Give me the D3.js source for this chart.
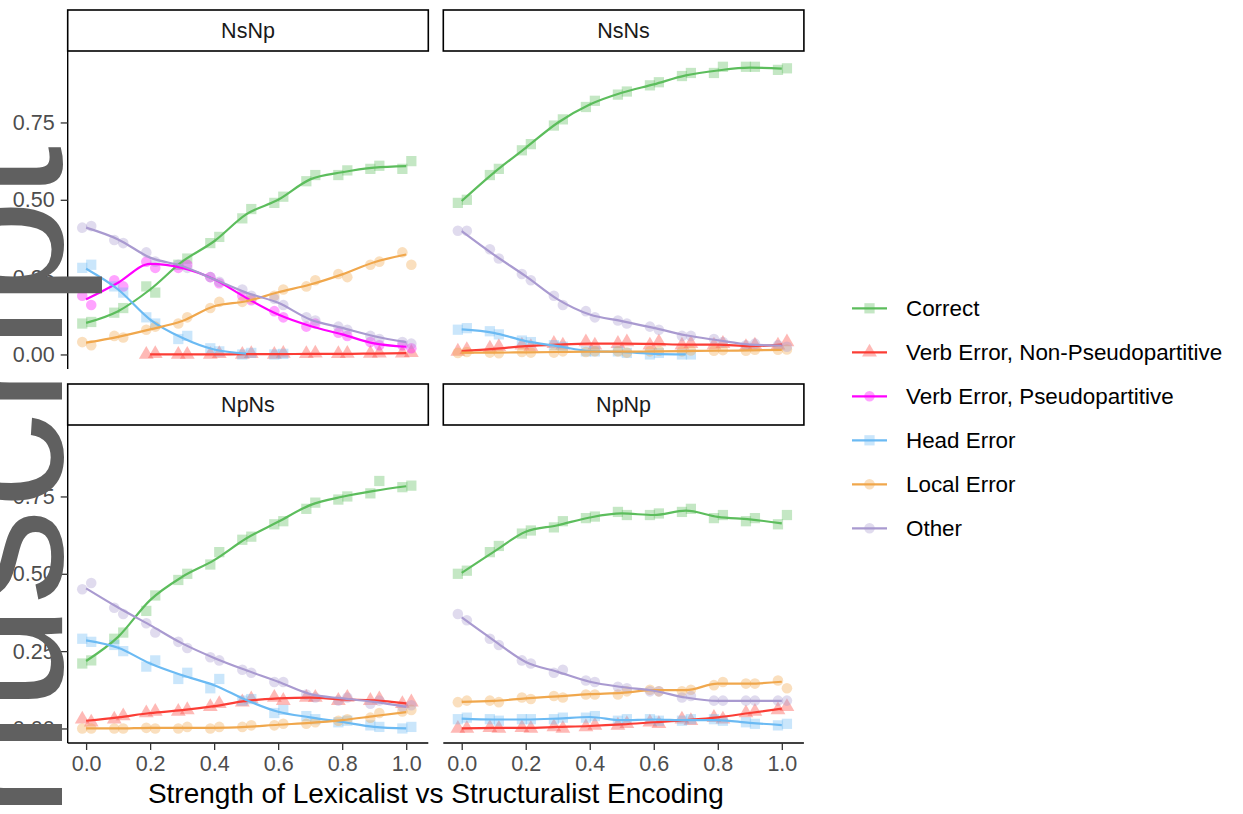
<!DOCTYPE html>
<html>
<head>
<meta charset="utf-8">
<script src="https://cdn.jsdelivr.net/npm/d3@7"></script>
<style>
  html, body { margin: 0; padding: 0; background: #fff; }
  svg { display: block; font-family: "Liberation Sans", Arial, Helvetica, sans-serif; }
</style>
</head>
<body>
<svg id="chart" width="1243" height="814"></svg>
<script>
// ---------------- DATA ----------------
const xValues = [0, 0.1, 0.2, 0.3, 0.4, 0.5, 0.6, 0.7, 0.8, 0.9, 1.0];
const xTicks = [0, 0.2, 0.4, 0.6, 0.8, 1.0];
const yTicks = [0, 0.25, 0.5, 0.75];
const panels = ["NsNp", "NsNs", "NpNs", "NpNp"];
const seriesNames = ["Correct", "Verb Error, Non-Pseudopartitive", "Verb Error, Pseudopartitive", "Head Error", "Local Error", "Other"];
const seriesColors = ["#5cbd5c", "#fb3d35", "#ff00ff", "#6bbaf3", "#f0a74c", "#a99ad0"];
const seriesShapes = ["square", "triangle", "circle", "square", "circle", "circle"];
const xAxisTitle = "Strength of Lexicalist vs Structuralist Encoding";
const watermarkText = "Author Manuscript";

// NsNp
const NsNp_Correct = [0.102, 0.14, 0.21, 0.30, 0.366, 0.453, 0.50, 0.566, 0.589, 0.604, 0.609];
const NsNp_Correct_pts = [[0.10,0.105],[0.135,0.15],[0.22,0.20],[0.29,0.31],[0.36,0.38],[0.44,0.47],[0.49,0.51],[0.56,0.58],[0.58,0.595],[0.60,0.61],[0.60,0.625]];
const NsNp_VerbNP = [null, null, 0.0, 0.0, 0.0, 0.001, 0.001, 0.002, 0.002, 0.003, 0.004];
const NsNp_VerbNP_pts = [null, null, [0.0,0.002],[0.0,0.0],[0.0,0.002],[0.0,0.002],[0.0,0.003],[0.002,0.004],[0.002,0.003],[0.003,0.004],[0.004,0.006]];
const NsNp_VerbP = [0.178, 0.232, 0.293, 0.28, 0.243, 0.183, 0.129, 0.092, 0.065, 0.036, 0.025];
const NsNp_VerbP_pts = [[0.19,0.16],[0.24,0.22],[0.30,0.28],[0.28,0.29],[0.25,0.23],[0.19,0.175],[0.14,0.12],[0.09,0.10],[0.07,0.06],[0.04,0.03],[0.03,0.02]];
const NsNp_Head = [0.277, 0.21, 0.113, 0.054, 0.016, 0.003, null, null, null, null, null];
const NsNp_Head_pts = [[0.28,0.29],[0.22,0.20],[0.12,0.10],[0.05,0.06],[0.02,0.01],[0.0,0.005],[0.0,0.002],null,null,null,null];
const NsNp_Local = [0.038, 0.057, 0.081, 0.108, 0.156, 0.172, 0.201, 0.226, 0.259, 0.298, 0.323];
const NsNp_Local_pts = [[0.04,0.03],[0.06,0.055],[0.08,0.09],[0.10,0.12],[0.15,0.17],[0.17,0.18],[0.19,0.21],[0.22,0.24],[0.26,0.25],[0.29,0.30],[0.33,0.29]];
const NsNp_Other = [0.41, 0.372, 0.313, 0.286, 0.243, 0.20, 0.167, 0.113, 0.086, 0.059, 0.04];
const NsNp_Other_pts = [[0.41,0.415],[0.37,0.36],[0.33,0.30],[0.29,0.28],[0.25,0.235],[0.21,0.19],[0.18,0.16],[0.12,0.11],[0.09,0.08],[0.06,0.05],[0.04,0.035]];

// NsNs
const NsNs_Correct = [0.496, 0.587, 0.668, 0.749, 0.808, 0.846, 0.873, 0.902, 0.918, 0.927, 0.924];
const NsNs_Correct_pts = [[0.49,0.50],[0.58,0.60],[0.66,0.68],[0.74,0.76],[0.80,0.82],[0.84,0.85],[0.87,0.88],[0.90,0.91],[0.91,0.93],[0.93,0.93],[0.92,0.925]];
const NsNs_VerbNP = [0.011, 0.018, 0.027, 0.032, 0.035, 0.035, 0.034, 0.032, 0.032, 0.027, 0.032];
const NsNs_VerbNP_pts = [[0.01,0.015],[0.02,0.025],[0.03,0.025],[0.035,0.03],[0.04,0.03],[0.035,0.04],[0.03,0.04],[0.03,0.035],[0.03,0.035],[0.025,0.03],[0.03,0.04]];
const NsNs_Head = [0.081, 0.07, 0.043, 0.027, 0.011, 0.008, 0.002, 0.0, null, null, null];
const NsNs_Head_pts = [[0.08,0.085],[0.075,0.065],[0.045,0.04],[0.03,0.025],[0.01,0.01],[0.01,0.005],[0.0,0.005],[0.0,0.0],null,null,null];
const NsNs_Local = [0.006, 0.006, 0.007, 0.008, 0.009, 0.009, 0.01, 0.011, 0.012, 0.013, 0.015];
const NsNs_Local_pts = [[0.005,0.008],[0.006,0.004],[0.008,0.006],[0.006,0.01],[0.008,0.01],[0.01,0.006],[0.01,0.012],[0.01,0.013],[0.012,0.014],[0.012,0.015],[0.015,0.016]];
const NsNs_Other = [0.399, 0.323, 0.253, 0.178, 0.129, 0.108, 0.086, 0.062, 0.046, 0.032, 0.029];
const NsNs_Other_pts = [[0.40,0.40],[0.34,0.31],[0.26,0.24],[0.19,0.16],[0.14,0.12],[0.11,0.10],[0.09,0.08],[0.06,0.06],[0.05,0.04],[0.03,0.035],[0.03,0.025]];

// NpNs
const NpNs_Correct = [0.218, 0.296, 0.415, 0.49, 0.544, 0.614, 0.668, 0.722, 0.749, 0.768, 0.783];
const NpNs_Correct_pts = [[0.21,0.22],[0.29,0.31],[0.38,0.43],[0.48,0.50],[0.53,0.57],[0.61,0.62],[0.66,0.67],[0.71,0.73],[0.74,0.75],[0.76,0.80],[0.78,0.785]];
const NpNs_VerbNP = [0.025, 0.036, 0.05, 0.059, 0.072, 0.089, 0.097, 0.10, 0.094, 0.091, 0.081];
const NpNs_VerbNP_pts = [[0.03,0.02],[0.03,0.04],[0.05,0.055],[0.055,0.06],[0.07,0.08],[0.085,0.095],[0.10,0.09],[0.10,0.10],[0.09,0.10],[0.09,0.095],[0.08,0.085]];
const NpNs_Head = [0.285, 0.261, 0.21, 0.172, 0.14, 0.092, 0.054, 0.036, 0.021, 0.005, 0.0];
const NpNs_Head_pts = [[0.29,0.28],[0.27,0.25],[0.20,0.22],[0.16,0.18],[0.13,0.16],[0.09,0.095],[0.05,0.06],[0.04,0.03],[0.02,0.025],[0.01,0.005],[0.0,0.005]];
const NpNs_Local = [0.0, 0.0, 0.002, 0.002, 0.002, 0.005, 0.012, 0.018, 0.027, 0.04, 0.053];
const NpNs_Local_pts = [[0.0,0.0],[0.0,0.0],[0.002,0.0],[0.0,0.005],[0.0,0.005],[0.005,0.01],[0.01,0.015],[0.015,0.02],[0.025,0.03],[0.035,0.05],[0.055,0.06]];
const NpNs_Other = [0.453, 0.391, 0.334, 0.275, 0.228, 0.188, 0.151, 0.111, 0.097, 0.086, 0.07];
const NpNs_Other_pts = [[0.45,0.47],[0.39,0.37],[0.34,0.31],[0.28,0.26],[0.23,0.22],[0.19,0.18],[0.15,0.15],[0.11,0.10],[0.09,0.10],[0.08,0.09],[0.07,0.075]];

// NpNp
const NpNp_Correct = [0.503, 0.571, 0.636, 0.657, 0.682, 0.695, 0.69, 0.704, 0.684, 0.676, 0.663];
const NpNp_Correct_pts = [[0.50,0.51],[0.57,0.59],[0.63,0.64],[0.65,0.67],[0.68,0.685],[0.70,0.69],[0.69,0.695],[0.70,0.71],[0.68,0.69],[0.67,0.68],[0.66,0.69]];
const NpNp_VerbNP = [0.0, 0.002, 0.002, 0.005, 0.008, 0.013, 0.02, 0.027, 0.036, 0.05, 0.064];
const NpNp_VerbNP_pts = [[0.0,0.0],[0.002,0.0],[0.002,0.0],[0.005,0.0],[0.005,0.01],[0.01,0.015],[0.02,0.015],[0.03,0.025],[0.035,0.03],[0.05,0.055],[0.06,0.07]];
const NpNp_Head = [0.032, 0.029, 0.029, 0.032, 0.037, 0.027, 0.029, 0.027, 0.027, 0.018, 0.011];
const NpNp_Head_pts = [[0.03,0.035],[0.03,0.025],[0.03,0.03],[0.03,0.035],[0.035,0.04],[0.025,0.03],[0.03,0.025],[0.025,0.03],[0.03,0.025],[0.02,0.015],[0.01,0.015]];
const NpNp_Local = [0.086, 0.089, 0.097, 0.104, 0.111, 0.115, 0.124, 0.124, 0.145, 0.145, 0.151];
const NpNp_Local_pts = [[0.085,0.09],[0.09,0.085],[0.10,0.095],[0.105,0.10],[0.11,0.11],[0.11,0.12],[0.125,0.12],[0.12,0.125],[0.14,0.15],[0.145,0.145],[0.155,0.13]];
const NpNp_Other = [0.359, 0.285, 0.215, 0.183, 0.151, 0.134, 0.122, 0.10, 0.089, 0.089, 0.089];
const NpNp_Other_pts = [[0.37,0.35],[0.29,0.27],[0.22,0.21],[0.18,0.19],[0.155,0.15],[0.135,0.13],[0.12,0.12],[0.10,0.105],[0.09,0.09],[0.09,0.09],[0.09,0.09]];

// series per panel: [seriesIndex, line, points]
const panelSeries = {
  NsNp: [[0, NsNp_Correct, NsNp_Correct_pts],[1, NsNp_VerbNP, NsNp_VerbNP_pts],[2, NsNp_VerbP, NsNp_VerbP_pts],[3, NsNp_Head, NsNp_Head_pts],[4, NsNp_Local, NsNp_Local_pts],[5, NsNp_Other, NsNp_Other_pts]],
  NsNs: [[0, NsNs_Correct, NsNs_Correct_pts],[1, NsNs_VerbNP, NsNs_VerbNP_pts],[3, NsNs_Head, NsNs_Head_pts],[4, NsNs_Local, NsNs_Local_pts],[5, NsNs_Other, NsNs_Other_pts]],
  NpNs: [[0, NpNs_Correct, NpNs_Correct_pts],[1, NpNs_VerbNP, NpNs_VerbNP_pts],[3, NpNs_Head, NpNs_Head_pts],[4, NpNs_Local, NpNs_Local_pts],[5, NpNs_Other, NpNs_Other_pts]],
  NpNp: [[0, NpNp_Correct, NpNp_Correct_pts],[1, NpNp_VerbNP, NpNp_VerbNP_pts],[3, NpNp_Head, NpNp_Head_pts],[4, NpNp_Local, NpNp_Local_pts],[5, NpNp_Other, NpNp_Other_pts]]
};

// ---------------- LAYOUT ----------------
const svg = d3.select("#chart");
const panelW = 360.6, panelH = 318, stripH = 41;
const colX = [67.7, 443.3];
const rowStripY = [10, 384];
const jitterX = [-0.012, 0.016];

const xScale = d3.scaleLinear().domain([-0.0575, 1.069]).range([0, panelW]);
const yScale = d3.scaleLinear().domain([-0.047, 0.981]).range([panelH, 0]);

const symbolType = { square: d3.symbolSquare, triangle: d3.symbolTriangle, circle: d3.symbolCircle };
const symbolSize = { square: 105, triangle: 95, circle: 88 };
const ptOpacity = 0.36;

panels.forEach((name, pi) => {
  const col = pi % 2, row = Math.floor(pi / 2);
  const px = colX[col], sy = rowStripY[row], py = sy + stripH;
  const g = svg.append("g").attr("transform", `translate(${px},${py})`);

  // strip
  svg.append("rect").attr("x", px).attr("y", sy).attr("width", panelW).attr("height", stripH)
    .attr("fill", "#fff").attr("stroke", "#000").attr("stroke-width", 1.6);
  svg.append("text").attr("x", px + panelW / 2).attr("y", sy + stripH / 2).attr("dy", "0.36em")
    .attr("text-anchor", "middle").attr("font-size", 21.5).attr("fill", "#1a1a1a").text(name);

  const list = panelSeries[name];
  // points
  list.forEach(([si, line, pts]) => {
    const shape = seriesShapes[si];
    const sym = d3.symbol().type(symbolType[shape]).size(symbolSize[shape]);
    pts.forEach((pair, i) => {
      if (!pair) return;
      pair.forEach((v, k) => {
        g.append("path").attr("d", sym)
          .attr("transform", `translate(${xScale(xValues[i] + jitterX[k])},${yScale(v)})`)
          .attr("fill", seriesColors[si]).attr("fill-opacity", ptOpacity);
      });
    });
  });
  // lines
  list.forEach(([si, line]) => {
    const data = line.map((v, i) => [xValues[i], v]).filter(d => d[1] !== null);
    g.append("path").datum(data)
      .attr("d", d3.line().x(d => xScale(d[0])).y(d => yScale(d[1])).curve(d3.curveMonotoneX))
      .attr("fill", "none").attr("stroke", seriesColors[si]).attr("stroke-width", 2.2);
  });

  // y axis on left column
  if (col === 0) {
    const ya = g.append("g").call(d3.axisLeft(yScale).tickValues(yTicks).tickFormat(d3.format(".2f")).tickSize(7).tickPadding(6));
    ya.select(".domain").attr("stroke", "#000").attr("stroke-width", 1.4).attr("d", `M0,0V${panelH}`);
    ya.selectAll(".tick line").attr("stroke", "#333").attr("stroke-width", 1.3);
    ya.selectAll(".tick text").attr("font-size", 21.5).attr("fill", "#4d4d4d").attr("font-family", "Liberation Sans, Arial, sans-serif");
  }
  // x axis on bottom row
  if (row === 1) {
    const xa = g.append("g").attr("transform", `translate(0,${panelH})`)
      .call(d3.axisBottom(xScale).tickValues(xTicks).tickFormat(d3.format(".1f")).tickSize(7).tickPadding(6));
    xa.select(".domain").attr("stroke", "#000").attr("stroke-width", 1.4).attr("d", `M0,0H${panelW}`);
    xa.selectAll(".tick line").attr("stroke", "#333").attr("stroke-width", 1.3);
    xa.selectAll(".tick text").attr("font-size", 21.5).attr("fill", "#4d4d4d").attr("font-family", "Liberation Sans, Arial, sans-serif");
  }
});

// x axis title
svg.append("text").attr("x", (colX[0] + colX[1] + panelW) / 2).attr("y", 803)
  .attr("text-anchor", "middle").attr("font-size", 28).attr("fill", "#000").text(xAxisTitle);

// legend
const legY0 = 308.3, legStep = 44;
seriesNames.forEach((s, i) => {
  const y = legY0 + i * legStep;
  svg.append("line").attr("x1", 852).attr("x2", 887).attr("y1", y).attr("y2", y)
    .attr("stroke", seriesColors[i]).attr("stroke-width", 2.2);
  const shape = seriesShapes[i];
  svg.append("path").attr("d", d3.symbol().type(symbolType[shape]).size(symbolSize[shape]))
    .attr("transform", `translate(869.5,${y})`).attr("fill", seriesColors[i]).attr("fill-opacity", ptOpacity);
  svg.append("text").attr("x", 906).attr("y", y).attr("dy", "0.36em")
    .attr("font-size", 22.4).attr("fill", "#000").text(s);
});

// watermark
svg.append("text").attr("transform", "translate(62,146) rotate(-90)")
  .attr("text-anchor", "end").attr("font-size", 192).attr("fill", "#606060")
  .attr("font-family", "Liberation Sans, Arial, sans-serif").text(watermarkText);
</script>
</body>
</html>
